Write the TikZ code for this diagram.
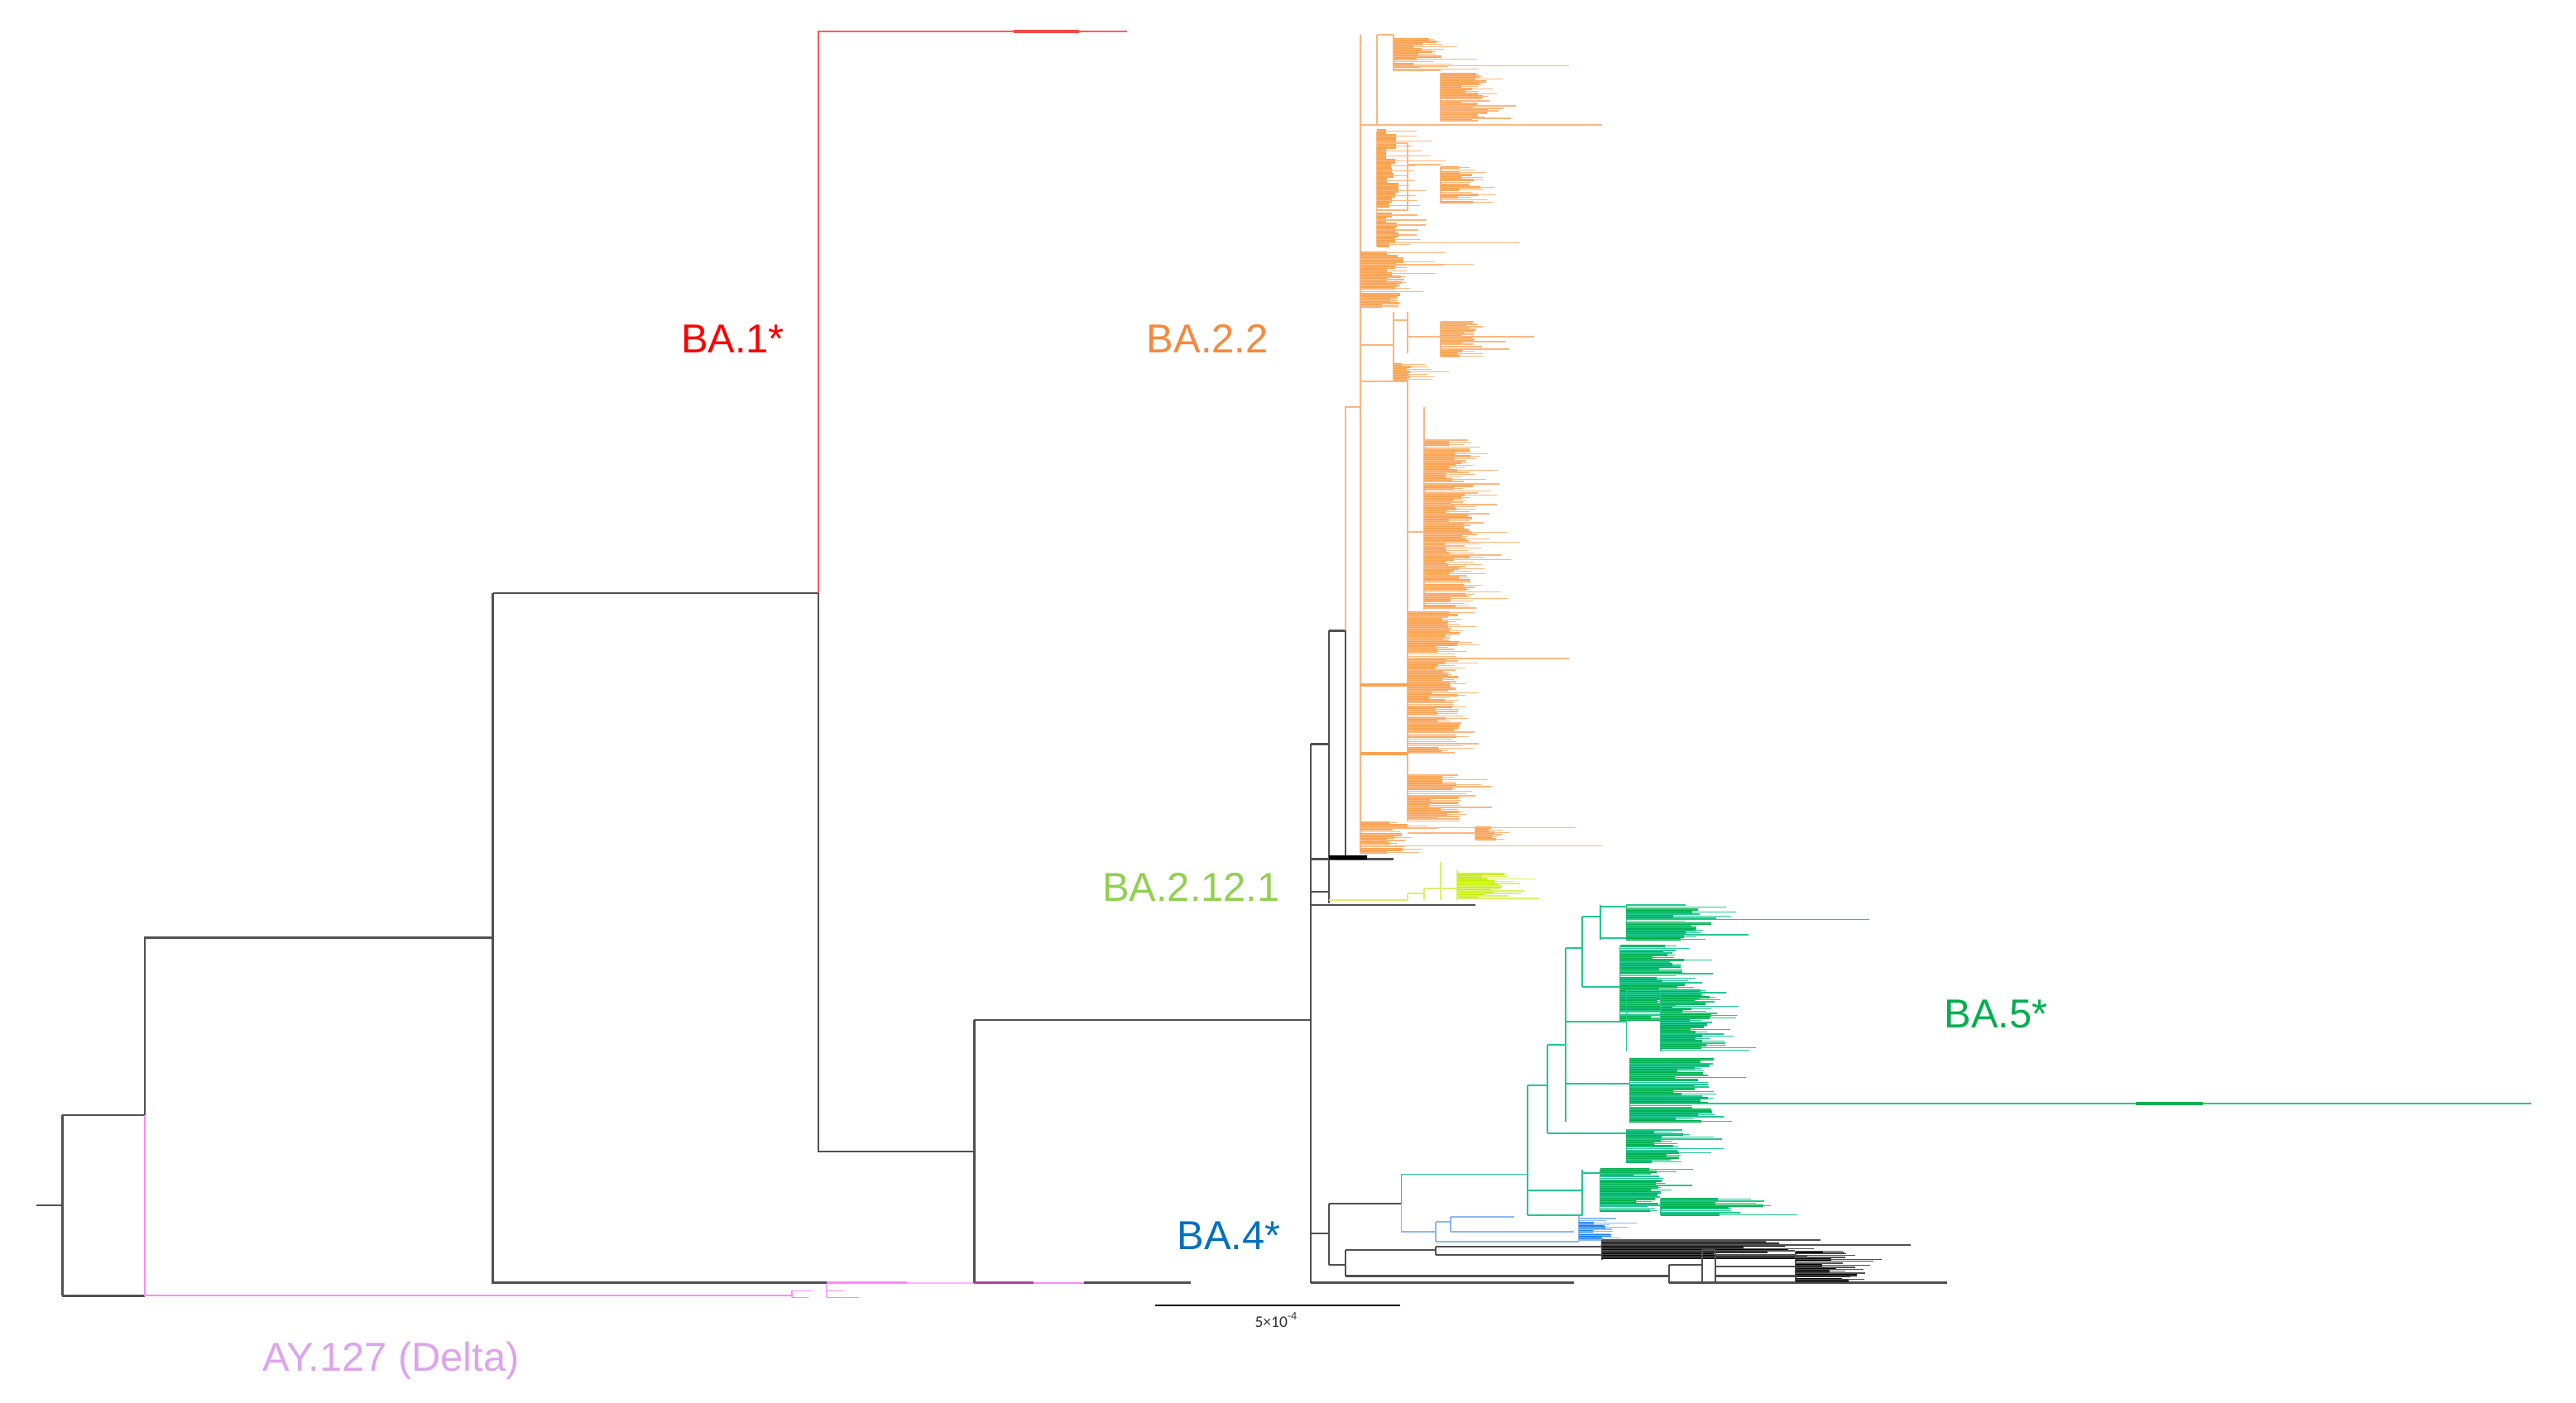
\documentclass[tikz,border=0pt]{standalone}
\usepackage{fontspec}
\setmainfont{Liberation Sans}
\newfontfamily\carlito{Carlito}
\definecolor{tgray}{HTML}{505050}
\definecolor{ba1l}{HTML}{FF5A5A}
\definecolor{ba1lab}{HTML}{FF0000}
\definecolor{orl}{HTML}{FBB77E}
\definecolor{ord}{HTML}{F9A452}
\definecolor{orlab}{HTML}{F58A3E}
\definecolor{chl}{HTML}{D8F268}
\definecolor{chd}{HTML}{C6EE00}
\definecolor{chlab}{HTML}{92D050}
\definecolor{g5l}{HTML}{22C88E}
\definecolor{g5d}{HTML}{00B050}
\definecolor{b4l}{HTML}{8CB8F0}
\definecolor{b4d}{HTML}{1E80F0}
\definecolor{b4lab}{HTML}{0070C0}
\definecolor{pkl}{HTML}{FF88FF}
\definecolor{pkd}{HTML}{B040A0}
\definecolor{pklab}{HTML}{DDA4EE}
% #1 line colour, #2 dense colour, #3 x, #4 y0, #5 y1, #6 step, #7 dense length, #8 leaf length
\newcommand\leafcomb[8]{%
  \draw[#1,line width=0.5pt] (#3,#4) -- (#3,#5);
  \pgfmathtruncatemacro\lcN{(#5-#4)/#6}
  \foreach \lcI in {0,...,\lcN}{
    \pgfmathsetmacro\lcY{#4+\lcI*#6}
    \pgfmathsetmacro\lcR{rnd}
    \pgfmathsetmacro\lcA{#3+(\lcR>0.12)*#7*(0.4+0.6*rnd)}
    \pgfmathsetmacro\lcB{max(\lcA,#3+#8*(0.4+0.6*rnd*rnd))}
    \draw[#2,line width=#6*0.25mm] (#3,\lcY) -- (\lcA,\lcY);
    \draw[#1,line width=0.45pt] (#3,\lcY) -- (\lcB,\lcY);
  }}
\begin{document}
\begin{tikzpicture}[x=0.25mm,y=-0.25mm,
  bk/.style={draw=tgray,line width=0.85pt},
  tl/.style={line width=0.7pt},
  leaf/.style={line width=0.45pt},
  lab/.style={font=\fontsize{17.5}{20}\selectfont, inner sep=0pt, anchor=base}]
\useasboundingbox (0,0) rectangle (1568,854);
\fill[white] (0,0) rectangle (1568,854);
\pgfmathsetseed{4242}

% ---- backbone ----
\draw[bk] (22,734) -- (38,734);
\draw[bk] (38,679) -- (38,789);
\draw[bk] (38,679) -- (88,679) -- (88,571) -- (300,571);
\draw[bk] (38,789) -- (88,789);
\draw[pkl,tl] (88,679) -- (88,789) -- (482,789);
\draw[pkl,leaf] (482,786) -- (482,790) (482,786) -- (494,786) (482,790) -- (492,790)
  (503,781) -- (503,790) (503,790) -- (523,790) (503,786) -- (514,786);
\draw[pkl,line width=1.3pt] (503,781) -- (552,781);
\draw[pkl!60,tl] (552,781) -- (593,781);
\draw[bk] (300,361) -- (300,781) -- (503,781);
\draw[bk] (300,361) -- (498,361) -- (498,701) -- (593,701);
\draw[ba1l,tl] (498,361) -- (498,19) -- (686,19);
\draw[ba1l!80!red,line width=1.4pt] (617,19) -- (657,19);
\draw[bk] (593,621) -- (593,781);
\draw[bk] (593,621) -- (798,621);
\draw[pkd,line width=1.2pt] (593,781) -- (629,781);
\draw[pkl,tl] (629,781) -- (660,781);
\draw[bk] (660,781) -- (725,781);

% ---- right part backbone ----
\draw[bk] (798,453) -- (798,781);
\draw[bk] (798,453) -- (809,453);
\draw[bk] (809,384) -- (809,550);
\draw[bk] (809,384) -- (819,384) -- (819,521);
\draw[bk] (798,523) -- (848,523);
\draw[black,line width=2pt] (809,522) -- (832,522);
\draw[bk] (798,543) -- (809,543);
\draw[bk] (798,551) -- (898,551);

% ---- BA.2.2 (orange) ----
\draw[orl,tl] (819,384) -- (819,248) -- (828,248);
\draw[orl,tl] (828,21) -- (828,520);
\draw[orl,tl] (828,76) -- (838,76) (838,21) -- (838,76) (838,21) -- (848,21) (848,21) -- (848,43) (848,43) -- (877,43);
\leafcomb{orl}{ord}{848}{24}{42}{1.5}{30}{62}
\draw[orl,leaf] (848,40) -- (955,40);
\leafcomb{orl}{ord}{877}{45}{74}{1.5}{30}{56}
\draw[orl,leaf] (838,76) -- (975,76);
\leafcomb{orl}{ord}{838}{80}{150}{3}{14}{48}
\draw[orl,tl] (838,87) -- (857,87) (857,87) -- (857,128) (857,100) -- (877,100);
\leafcomb{orl}{ord}{877}{102}{124}{1.5}{24}{42}
\draw[orl,leaf] (838,148) -- (925,148);
\leafcomb{orl}{ord}{828}{154}{188}{1.8}{28}{55}
\draw[orl,leaf] (828,161) -- (897,161);
\draw[orl,tl] (828,210) -- (848,210) (848,190) -- (848,230) (848,195) -- (857,195) (857,190) -- (857,215) (857,205) -- (877,205);
\leafcomb{orl}{ord}{877}{196}{217}{1.5}{22}{48}
\draw[orl,leaf] (877,205) -- (934,205);
\leafcomb{orl}{ord}{848}{222}{231}{1.5}{12}{42}
\draw[orl,tl] (828,232) -- (857,232) (857,228) -- (857,500) (857,324) -- (867,324) (867,248) -- (867,371);
\leafcomb{orl}{ord}{867}{268}{371}{1.4}{30}{58}
\draw[orl,leaf] (867,330) -- (925,330);
\leafcomb{orl}{ord}{857}{373}{459}{1.4}{32}{60}
\draw[orl,leaf] (857,401) -- (955,401);
\draw[ord,line width=1.5pt] (828,417) -- (857,417) (828,459) -- (857,459);
\leafcomb{orl}{ord}{857}{472}{500}{1.4}{32}{68}
\leafcomb{orl}{ord}{828}{501}{520}{1.8}{30}{55}
\draw[orl,leaf] (828,504) -- (959,504) (828,515) -- (975,515);
\draw[orl,tl] (857,507) -- (898,507);
\leafcomb{orl}{ord}{898}{504}{511}{1.4}{14}{30}

% ---- BA.2.12.1 ----
\draw[chl,tl] (809,548) -- (857,548) (857,544) -- (857,548) (857,544) -- (867,544) (867,541) -- (867,548)
  (867,541) -- (887,541) (877,525) -- (877,548) (887,530) -- (887,548);
\leafcomb{chl}{chd}{887}{532}{548}{1.5}{30}{58}

% ---- BA.4 / BA.5 / others ----
\draw[bk] (798,751) -- (809,751);
\draw[bk] (809,733) -- (809,770);
\draw[bk] (809,733) -- (853,733);
\draw[bk] (809,770) -- (819,770);
\draw[bk] (819,761) -- (819,777);
\draw[bk] (798,781) -- (958,781);

% BA.4 (blue)
\draw[b4l,tl] (853,733) -- (853,750) -- (874,750) (874,744) -- (874,756) (874,744) -- (883,744)
  (883,741) -- (883,750) (883,741) -- (922,741) (883,750) -- (958,750) (874,756) -- (961,756) (961,740) -- (961,756);
\leafcomb{b4l}{b4d}{961}{742}{756}{1.3}{20}{40}

% black clade
\draw[bk] (819,761) -- (874,761) (874,759) -- (874,764) (874,759) -- (975,759) (874,764) -- (975,764) (975,755) -- (975,767);
\leafcomb{tgray}{black}{975}{755}{767}{1.1}{140}{185}
\draw[bk] (975,758) -- (1163,758);
\draw[bk] (819,777) -- (1016,777) (1016,770) -- (1016,781) (1016,770) -- (1036,770) (1036,761) -- (1036,781)
  (1016,781) -- (1036,781) (1036,761) -- (1044,761) (1044,761) -- (1044,781) (1044,764) -- (1093,764)
  (1044,771) -- (1093,771) (1044,777) -- (1093,777) (1036,781) -- (1185,781);
\leafcomb{tgray}{black}{1093}{762}{780}{1.2}{38}{72}

% BA.5 (green)
\draw[g5l,tl] (853,733) -- (853,715) -- (930,715);
\draw[g5l,tl] (930,661) -- (930,740) (930,661) -- (942,661) (942,636) -- (942,690) (942,636) -- (953,636)
  (953,577) -- (953,683) (953,577) -- (963,577) (963,558) -- (963,601) (963,558) -- (974,558)
  (974,551) -- (974,572) (974,552) -- (990,552) (974,571) -- (990,571);
\leafcomb{g5l}{g5d}{990}{551}{572}{1.4}{55}{88}
\draw[g5l,leaf] (990,560) -- (1138,560);
\draw[g5l,tl] (963,601) -- (986,601);
\leafcomb{g5l}{g5d}{986}{576}{622}{1.4}{40}{75}
\draw[g5l,tl] (953,622) -- (990,622) (990,603) -- (990,640) (990,603) -- (1011,603);
\leafcomb{g5l}{g5d}{1011}{603}{640}{1.4}{32}{62}
\draw[g5l,tl] (953,660) -- (992,660);
\leafcomb{g5l}{g5d}{992}{645}{684}{1.4}{55}{88}
\draw[g5l,tl] (992,672) -- (1541,672);
\draw[g5d,line width=1.4pt] (1300,672) -- (1341,672);
\draw[g5l,tl] (942,690) -- (990,690);
\leafcomb{g5l}{g5d}{990}{688}{708}{1.4}{36}{62}
\draw[g5l,tl] (930,725) -- (963,725) (963,712) -- (963,740) (963,714) -- (974,714) (930,740) -- (963,740);
\leafcomb{g5l}{g5d}{974}{712}{738}{1.4}{42}{70}
\draw[g5l,tl] (974,734) -- (1011,734);
\leafcomb{g5l}{g5d}{1011}{730}{740}{1.4}{75}{105}

% ---- scale bar ----
\coordinate (sb1) at (703,795);
\coordinate (sb2) at (852,795);
\draw[black,line width=0.8pt] (sb1) -- (sb2);
\node[font=\carlito\fontsize{7}{8}\selectfont, text=black!80, inner sep=0pt, anchor=base] (sbl) at (777,808) {5×10\textsuperscript{-4}};

% ---- labels ----
\node[lab, text=ba1lab] (lba1) at (446,215) {BA.1*};
\node[lab, text=orlab] (lba22) at (735,215) {BA.2.2};
\node[lab, text=chlab] (lba2121) at (725,549) {BA.2.12.1};
\node[lab, text=g5d] (lba5) at (1215,626) {BA.5*};
\node[lab, text=b4lab] (lba4) at (748,761) {BA.4*};
\node[lab, text=pklab] (lay) at (238,835) {AY.127 (Delta)};
\end{tikzpicture}
\end{document}
